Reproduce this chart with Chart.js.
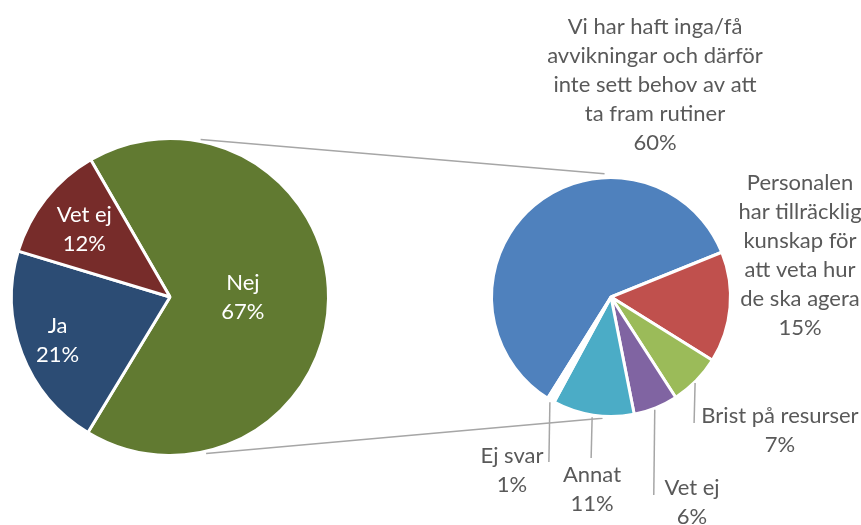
<!DOCTYPE html>
<html>
<head>
<meta charset="utf-8">
<script src="https://cdn.jsdelivr.net/npm/chart.js@4.4.0/dist/chart.umd.min.js"></script>
<style>
  html, body { margin: 0; padding: 0; background: #fff; }
  #wrap { position: relative; width: 861px; height: 525px; }
  #wrap canvas { position: absolute; left: 0; top: 0; }
</style>
</head>
<body>
<div id="wrap">
  <canvas id="mainPie" width="861" height="525"></canvas>
  <canvas id="subPie" width="861" height="525"></canvas>
</div>
<script>
// --- data ---
const mainLabels = ['Nej', 'Ja', 'Vet ej'];
const mainValues = [67, 21, 12];

const subLabels = [
    ['Vi har haft inga/få', 'avvikningar och därför', 'inte sett behov av att', 'ta fram rutiner'],
    ['Personalen', 'har tillräcklig', 'kunskap för', 'att veta hur', 'de ska agera'],
    ['Brist på resurser'],
    ['Vet ej'],
    ['Annat'],
    ['Ej svar']
];
const subValues = [60, 15, 7, 6, 11, 1];

// --- style / layout ---
const mainColors = ['#617A31', '#2C4C74', '#772C2A'];
const subColors = ['#4F81BD', '#C0504D', '#9BBB59', '#8064A2', '#4BACC6', '#FFFFFF'];
const FONT = '22px Lato, "Open Sans", sans-serif';
const LINE_H = 29;
const GREY_TEXT = '#595959';
const GREY_LINE = '#A6A6A6';

// inside labels of the main pie: fraction of radius along mid angle
const mainLabelRadius = [0.46, 0.76, 0.69];
// outside labels of the sub pie: block centre relative to pie centre
const subLabelOffset = [[44, -212], [189, -42], [169, 133], [81, 205], [-19, 192], [-99, 173]];
// leader lines: end y relative to pie centre (null = no leader)
const subLeaderEnd = [null, null, 126, 198, 161, 165];

let mainChart = null;

function drawBlock(ctx, lines, cx, cy) {
    const top = cy - (lines.length - 1) * LINE_H / 2;
    lines.forEach((line, i) => ctx.fillText(line, cx, top + i * LINE_H));
}

const mainLabelPlugin = {
    id: 'mainLabels',
    afterDatasetsDraw(chart) {
        const ctx = chart.ctx;
        const arcs = chart.getDatasetMeta(0).data;
        ctx.save();
        ctx.font = FONT;
        ctx.fillStyle = '#FFFFFF';
        ctx.textAlign = 'center';
        ctx.textBaseline = 'middle';
        arcs.forEach((arc, i) => {
            const mid = (arc.startAngle + arc.endAngle) / 2;
            const r = arc.outerRadius * mainLabelRadius[i];
            drawBlock(ctx, [mainLabels[i], mainValues[i] + '%'], arc.x + Math.cos(mid) * r, arc.y + Math.sin(mid) * r);
        });
        ctx.restore();
    }
};

const subLabelPlugin = {
    id: 'subLabels',
    beforeDatasetsDraw(chart) {
        // connector lines between the two pies
        if (!mainChart) return;
        const a = mainChart.getDatasetMeta(0).data[0];
        const b = chart.getDatasetMeta(0).data[0];
        const ctx = chart.ctx;
        const pt = (arc, deg, extra) => {
            const t = deg * Math.PI / 180;
            return [arc.x + Math.cos(t) * (arc.outerRadius + extra), arc.y + Math.sin(t) * (arc.outerRadius + extra)];
        };
        ctx.save();
        ctx.strokeStyle = GREY_LINE;
        ctx.lineWidth = 1.5;
        [[-79, -93, 4], [77, 94, 2]].forEach(([d1, d2, g]) => {
            const p1 = pt(a, d1, 2);
            const p2 = pt(b, d2, g);
            ctx.beginPath();
            ctx.moveTo(p1[0], p1[1]);
            ctx.lineTo(p2[0], p2[1]);
            ctx.stroke();
        });
        ctx.restore();
    },
    afterDatasetsDraw(chart) {
        const ctx = chart.ctx;
        const arcs = chart.getDatasetMeta(0).data;
        ctx.save();
        ctx.font = FONT;
        ctx.textAlign = 'center';
        ctx.textBaseline = 'middle';
        arcs.forEach((arc, i) => {
            const mid = (arc.startAngle + arc.endAngle) / 2;
            if (subLeaderEnd[i] !== null) {
                const sx = arc.x + Math.cos(mid) * arc.outerRadius;
                const sy = arc.y + Math.sin(mid) * arc.outerRadius;
                ctx.strokeStyle = GREY_LINE;
                ctx.lineWidth = 1.5;
                ctx.beginPath();
                ctx.moveTo(sx - 1, sy + 2);
                ctx.lineTo(sx - 2, arc.y + subLeaderEnd[i]);
                ctx.stroke();
            }
            ctx.fillStyle = GREY_TEXT;
            const [dx, dy] = subLabelOffset[i];
            drawBlock(ctx, subLabels[i].concat([subValues[i] + '%']), arc.x + dx, arc.y + dy);
        });
        ctx.restore();
    }
};

const baseOptions = {
    responsive: false,
    animation: false,
    devicePixelRatio: 1,
    plugins: { legend: { display: false }, tooltip: { enabled: false } },
    events: []
};

mainChart = new Chart(document.getElementById('mainPie'), {
    type: 'pie',
    data: {
        labels: mainLabels,
        datasets: [{ data: mainValues, backgroundColor: mainColors, borderColor: '#FFFFFF', borderWidth: 3 }]
    },
    options: { ...baseOptions, rotation: -30, layout: { padding: { left: 10, top: 137, right: 531, bottom: 68 } } },
    plugins: [mainLabelPlugin]
});

new Chart(document.getElementById('subPie'), {
    type: 'pie',
    data: {
        labels: subLabels.map(l => l.join(' ')),
        datasets: [{ data: subValues, backgroundColor: subColors, borderColor: '#FFFFFF', borderWidth: 3 }]
    },
    options: { ...baseOptions, rotation: 212, layout: { padding: { left: 490, top: 176, right: 129, bottom: 107 } } },
    plugins: [subLabelPlugin]
});
</script>
</body>
</html>
